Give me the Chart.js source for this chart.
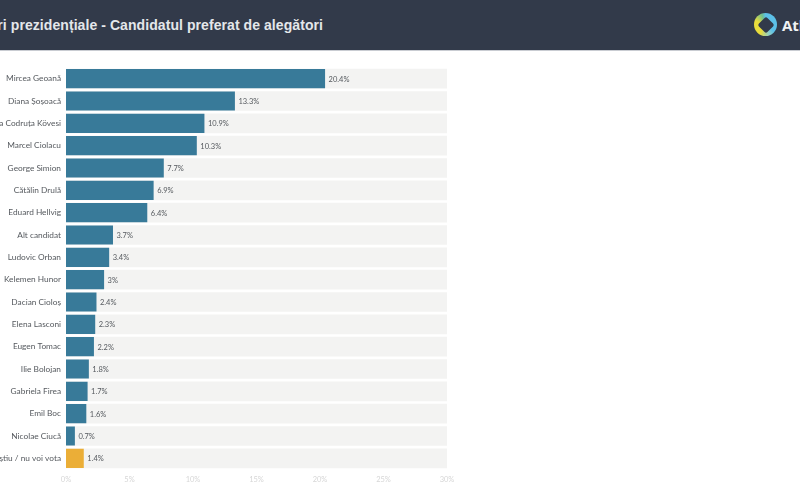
<!DOCTYPE html>
<html>
<head>
<meta charset="utf-8">
<title>Alegeri prezidențiale</title>
<script src="https://cdn.jsdelivr.net/npm/chart.js@4"></script>
<style>
    html, body { margin: 0; padding: 0; background: #fff; overflow: hidden; }
    #page { position: relative; width: 800px; height: 497px; overflow: hidden; }
    #header { position: absolute; left: 0; top: 0; width: 800px; height: 50px; background: #323a4a; border-bottom: 1px solid #c9ccd2; }
    #title { position: absolute; right: 477px; top: 17px; white-space: nowrap; color: #e4e7ea; font: bold 14px "Liberation Sans", sans-serif; letter-spacing: 0.07px; }
    #logo { position: absolute; left: 754px; top: 13px; width: 23px; height: 23px; border-radius: 50%; background: conic-gradient(#5cc0e8 0deg 130deg, #8fd0c8 160deg, #e8dc3c 210deg 290deg, #6fbf8f 340deg, #5cc0e8 360deg); }
    #logo i { position: absolute; left: 5.5px; top: 5.5px; width: 12px; height: 12px; border-radius: 2px; background: #323a4a; transform: rotate(45deg); }
    #brand { position: absolute; left: 782px; top: 15px; color: #f0f2f4; font: bold 15px "Open Sans", sans-serif; white-space: nowrap; }
    #chart { position: absolute; left: 0; top: 0; }
</style>
</head>
<body>
<div id="page">
    <canvas id="chart" width="800" height="497"></canvas>
    <div id="header">
        <div id="title">Alegeri prezidențiale - Candidatul preferat de alegători</div>
        <div id="logo"><i></i></div>
        <div id="brand">AtlasIntel</div>
    </div>
</div>
<script>
// Values
const candidates = ['Mircea Geoană', 'Diana Șoșoacă', 'Laura Codruța Kövesi', 'Marcel Ciolacu', 'George Simion', 'Cătălin Drulă', 'Eduard Hellvig', 'Alt candidat', 'Ludovic Orban', 'Kelemen Hunor', 'Dacian Cioloș', 'Elena Lasconi', 'Eugen Tomac', 'Ilie Bolojan', 'Gabriela Firea', 'Emil Boc', 'Nicolae Ciucă', 'Nu știu / nu voi vota'];
const shares = [20.4, 13.3, 10.9, 10.3, 7.7, 6.9, 6.4, 3.7, 3.4, 3, 2.4, 2.3, 2.2, 1.8, 1.7, 1.6, 0.7, 1.4];
const barColors = shares.map((v, i) => i === shares.length - 1 ? '#ebae37' : '#387a99');

// Percentage label next to each bar
const barLabels = {
    id: 'barLabels',
    afterDatasetsDraw(chart) {
        const ctx = chart.ctx;
        ctx.save();
        ctx.font = '7.5px Lato';
        ctx.fillStyle = '#55595e';
        ctx.textBaseline = 'middle';
        chart.getDatasetMeta(0).data.forEach((bar, i) => {
            ctx.fillText(shares[i] + '%', bar.x + 3.5, bar.y + 0.5);
        });
        ctx.restore();
    }
};

new Chart(document.getElementById('chart').getContext('2d'), {
    type: 'bar',
    data: {
        labels: candidates,
        datasets: [
            { data: shares, backgroundColor: barColors, order: 1, barPercentage: 0.86, categoryPercentage: 1 },
            { data: candidates.map(() => 30), backgroundColor: '#f3f3f2', order: 2, barPercentage: 0.88, categoryPercentage: 1 }
        ]
    },
    options: {
        indexAxis: 'y',
        responsive: false,
        animation: false,
        layout: { padding: { top: 67.5, right: 353, bottom: 0, left: 0 } },
        plugins: { legend: { display: false }, tooltip: { enabled: false } },
        datasets: { bar: { grouped: false } },
        scales: {
            x: {
                min: 0,
                max: 30,
                grid: { display: false, drawTicks: false },
                border: { display: false },
                afterFit: scale => { scale.height = 27.5; },
                ticks: { stepSize: 5, maxRotation: 0, padding: 6, color: '#d6d6d6', font: { family: 'Lato', size: 7.5 }, callback: value => value + '%' }
            },
            y: {
                grid: { display: false, drawTicks: false },
                border: { display: false },
                afterFit: scale => { scale.width = 66; },
                ticks: { autoSkip: false, padding: 5, color: '#55595e', font: { family: 'Lato', size: 8.3 } }
            }
        }
    },
    plugins: [barLabels]
});
</script>
</body>
</html>
